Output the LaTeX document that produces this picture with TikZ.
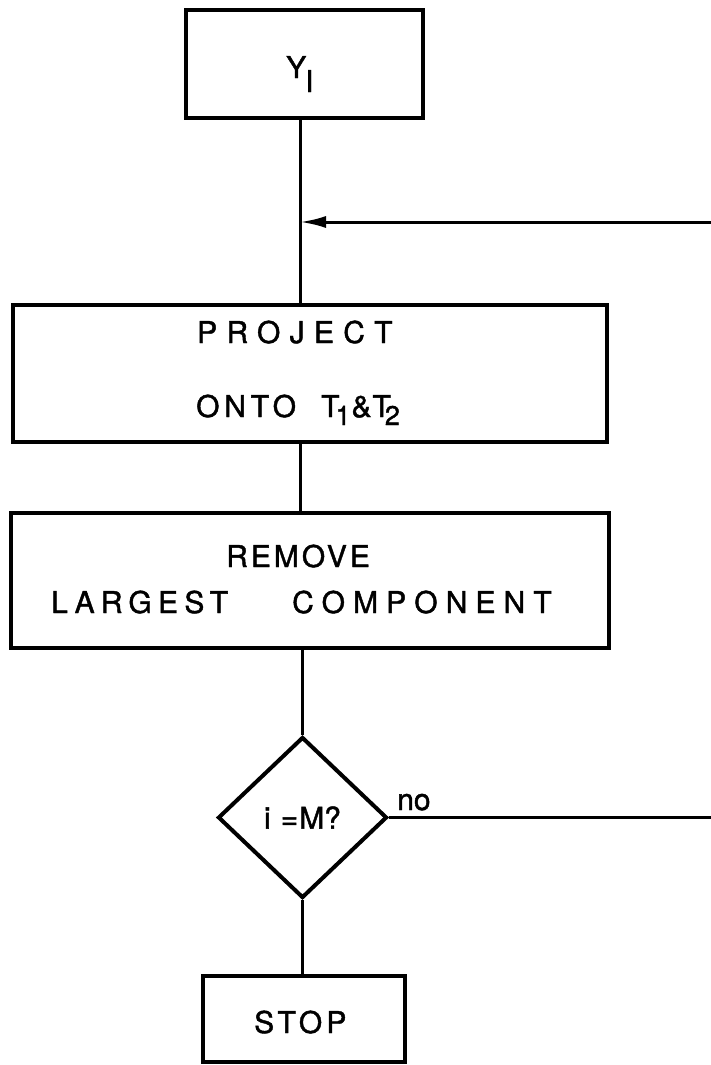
\documentclass[tikz,border=0pt]{standalone}
\usepackage{fontspec}
\setmainfont{TeX Gyre Heros}[FakeBold=1.4]
\usetikzlibrary{shapes.geometric,arrows.meta}
\newcommand\lsp[2]{{\addfontfeature{LetterSpace=#1}#2}}
\newcommand\sbx[1]{\raisebox{-8pt}{\fontsize{27}{29}\selectfont #1}}
\begin{document}
\begin{tikzpicture}[x=1pt,y=-1pt,
  box/.style={draw,rectangle,line width=4pt,inner sep=0pt},
  conn/.style={line width=3pt},
  lbl/.style={inner sep=0pt,anchor=base west,font=\fontsize{30}{32}\selectfont}]
\useasboundingbox (0,0) rectangle (711,1065);
\fill[white] (0,0) rectangle (711,1065);
% boxes
\node[box,minimum width=237pt,minimum height=108pt] (yi) at (304.5,64) {};
\node[lbl] (yit) at (286,78) {Y\kern-1pt\raisebox{-14pt}{I}};
\node[box,minimum width=594pt,minimum height=137pt] (proj) at (310,373.5) {};
\node[lbl] (t1) at (197,343) {\lsp{31}{PROJECT}};
\node[lbl] (t2) at (196,417) {\lsp{16}{ONTO}};
\node[lbl] (t3) at (321,417) {T\kern-4pt\sbx{1}\kern1pt\&\kern1pt T\kern-6pt\sbx{2}};
\node[box,minimum width=598pt,minimum height=135pt] (rem) at (310,580.5) {};
\node[lbl] (t4) at (226,567) {\lsp{10}{REMOVE}};
\node[lbl] (t5) at (51,613) {\lsp{21}{LARGEST}};
\node[lbl] (t6) at (292,613) {\lsp{27}{COMPONENT}};
\node[draw,diamond,line width=4pt,inner sep=0pt,minimum width=169pt,minimum height=161pt,font=\fontsize{30}{32}\selectfont] (dec) at (302.5,817.5) {i\,\,=\kern1pt M?};
\node[lbl] (no) at (397,810) {no};
\node[box,minimum width=202pt,minimum height=86pt] (stop) at (304,1019) {};
\node[lbl] (t7) at (254,1033) {\lsp{14}{STOP}};
% connectors
\coordinate (junc) at (300,222);
\coordinate (fbin) at (711,222);
\coordinate (noend) at (711,817.5);
\draw[conn] (yi.south -| junc) -- (proj.north -| junc);
\draw[conn,-{Latex[length=26pt,width=12pt]}] (fbin) -- (junc);
\draw[conn] (proj.south -| junc) -- (rem.north -| junc);
\draw[conn] (rem.south -| dec.north) -- (dec.north);
\draw[conn] (dec.east) -- (noend);
\draw[conn] (dec.south) -- (stop.north -| dec.south);
\end{tikzpicture}
\end{document}
